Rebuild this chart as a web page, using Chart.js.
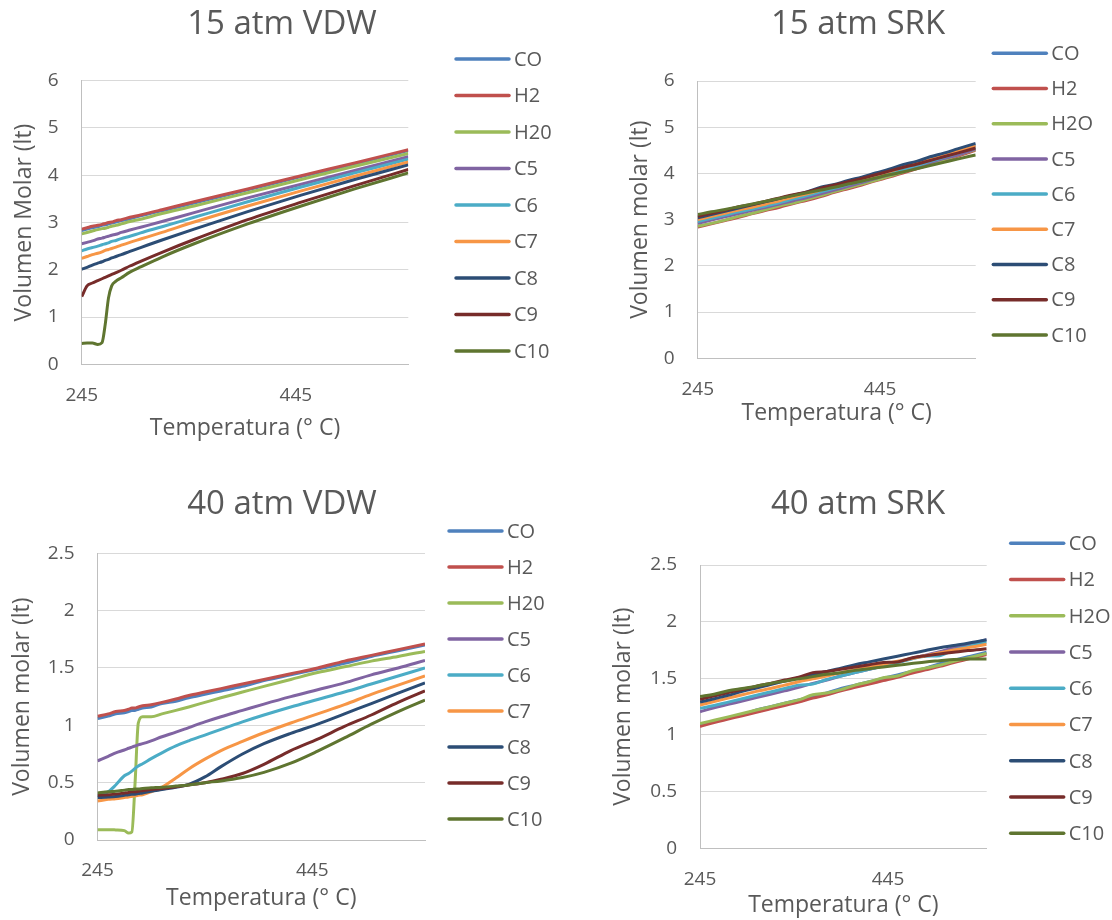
<!DOCTYPE html>
<html>
<head>
<meta charset="utf-8">
<title>Volumen molar vs temperatura</title>
<script src="https://cdn.jsdelivr.net/npm/chart.js@4.4.1/dist/chart.umd.min.js"></script>
<style>
  body { margin: 0; background: #fff; }
  #page { position: relative; width: 1112px; height: 920px; overflow: hidden; }
  canvas { position: absolute; }
</style>
</head>
<body>
<div id="page">
  <canvas id="vdw15" width="564" height="455" style="left:0;top:0"></canvas>
  <canvas id="srk15" width="508" height="455" style="left:604px;top:0"></canvas>
  <canvas id="vdw40" width="564" height="440" style="left:0;top:480px"></canvas>
  <canvas id="srk40" width="508" height="440" style="left:604px;top:480px"></canvas>
</div>
<script>
// ---- data ----
const NAMES_VDW = ['CO', 'H2', 'H20', 'C5', 'C6', 'C7', 'C8', 'C9', 'C10'];
const NAMES_SRK = ['CO', 'H2', 'H2O', 'C5', 'C6', 'C7', 'C8', 'C9', 'C10'];
const TEMP_TICKS = [245, 445];

// 15 atm, Van der Waals
const TEMP_VDW15 = [245, 250, 255, 260, 264, 267, 270, 273, 277, 282, 290, 300, 320, 350, 400, 450, 500, 550];
const VDW15 = [
  [2.83, 2.86, 2.89, 2.91, 2.94, 2.95, 2.97, 2.99, 3.01, 3.04, 3.08, 3.14, 3.25, 3.41, 3.69, 3.97, 4.24, 4.52],
  [2.86, 2.89, 2.92, 2.94, 2.96, 2.98, 3.00, 3.01, 3.04, 3.06, 3.11, 3.16, 3.27, 3.44, 3.71, 3.99, 4.26, 4.54],
  [2.76, 2.79, 2.82, 2.85, 2.87, 2.88, 2.90, 2.92, 2.94, 2.97, 3.02, 3.07, 3.19, 3.35, 3.63, 3.91, 4.19, 4.46],
  [2.55, 2.58, 2.61, 2.65, 2.67, 2.69, 2.71, 2.73, 2.75, 2.79, 2.84, 2.90, 3.02, 3.21, 3.52, 3.81, 4.10, 4.39],
  [2.40, 2.44, 2.47, 2.50, 2.53, 2.55, 2.57, 2.60, 2.62, 2.66, 2.71, 2.78, 2.91, 3.11, 3.44, 3.75, 4.05, 4.34],
  [2.24, 2.28, 2.32, 2.35, 2.38, 2.41, 2.43, 2.45, 2.48, 2.52, 2.58, 2.65, 2.79, 3.01, 3.35, 3.67, 3.98, 4.28],
  [2.01, 2.05, 2.10, 2.14, 2.17, 2.20, 2.22, 2.25, 2.28, 2.32, 2.39, 2.47, 2.63, 2.86, 3.23, 3.58, 3.91, 4.22],
  [1.43, 1.66, 1.72, 1.77, 1.81, 1.84, 1.87, 1.90, 1.94, 1.99, 2.08, 2.18, 2.37, 2.64, 3.06, 3.43, 3.78, 4.12],
  [0.44, 0.45, 0.45, 0.42, 0.46, 0.85, 1.40, 1.66, 1.76, 1.83, 1.95, 2.06, 2.27, 2.55, 2.97, 3.35, 3.71, 4.05]
];

// 40 atm, Van der Waals
const TEMP_VDW40 = [245, 255, 262, 270, 274, 277, 280, 283, 287, 295, 305, 318, 330, 345, 360, 380, 400, 425, 450, 475, 500, 525, 550];
const VDW40 = [
  [1.06, 1.08, 1.10, 1.11, 1.12, 1.13, 1.13, 1.14, 1.15, 1.16, 1.19, 1.21, 1.24, 1.27, 1.30, 1.34, 1.39, 1.44, 1.49, 1.54, 1.60, 1.65, 1.70],
  [1.08, 1.10, 1.12, 1.13, 1.14, 1.15, 1.15, 1.16, 1.17, 1.18, 1.20, 1.23, 1.26, 1.29, 1.32, 1.36, 1.40, 1.45, 1.50, 1.56, 1.61, 1.66, 1.71],
  [0.09, 0.09, 0.088, 0.082, 0.06, 0.07, 0.50, 1.02, 1.075, 1.075, 1.10, 1.13, 1.16, 1.20, 1.24, 1.29, 1.34, 1.40, 1.46, 1.51, 1.56, 1.60, 1.645],
  [0.69, 0.73, 0.76, 0.785, 0.80, 0.81, 0.82, 0.83, 0.84, 0.865, 0.90, 0.94, 0.98, 1.03, 1.075, 1.13, 1.185, 1.25, 1.31, 1.37, 1.44, 1.50, 1.565],
  [0.38, 0.42, 0.48, 0.56, 0.58, 0.60, 0.625, 0.645, 0.665, 0.71, 0.76, 0.82, 0.865, 0.915, 0.965, 1.03, 1.09, 1.16, 1.225, 1.29, 1.36, 1.43, 1.50],
  [0.34, 0.355, 0.36, 0.37, 0.375, 0.38, 0.385, 0.39, 0.395, 0.42, 0.46, 0.54, 0.62, 0.705, 0.78, 0.86, 0.935, 1.02, 1.10, 1.18, 1.27, 1.35, 1.43],
  [0.37, 0.375, 0.38, 0.39, 0.395, 0.40, 0.40, 0.405, 0.41, 0.425, 0.44, 0.46, 0.485, 0.55, 0.64, 0.75, 0.84, 0.93, 1.01, 1.10, 1.19, 1.28, 1.37],
  [0.39, 0.395, 0.40, 0.41, 0.415, 0.42, 0.42, 0.425, 0.43, 0.44, 0.45, 0.465, 0.48, 0.50, 0.53, 0.58, 0.66, 0.78, 0.88, 0.99, 1.09, 1.20, 1.30],
  [0.41, 0.42, 0.425, 0.435, 0.44, 0.44, 0.445, 0.445, 0.45, 0.455, 0.46, 0.47, 0.48, 0.50, 0.515, 0.545, 0.59, 0.67, 0.775, 0.89, 1.01, 1.12, 1.22]
];

// Soave-Redlich-Kwong, both pressures share one temperature grid
const TEMP_SRK = [245, 260, 275, 290, 305, 320, 335, 350, 365, 380, 395, 410, 425, 440, 455, 470, 485, 500, 515, 530, 550];
const SRK15 = [
  [2.99, 3.06, 3.13, 3.20, 3.27, 3.34, 3.41, 3.49, 3.56, 3.64, 3.72, 3.80, 3.88, 3.97, 4.05, 4.14, 4.22, 4.31, 4.40, 4.49, 4.62],
  [2.84, 2.91, 2.98, 3.05, 3.13, 3.20, 3.27, 3.35, 3.42, 3.50, 3.59, 3.67, 3.75, 3.84, 3.92, 4.01, 4.10, 4.19, 4.28, 4.37, 4.50],
  [2.86, 2.92, 2.99, 3.07, 3.14, 3.22, 3.30, 3.36, 3.44, 3.52, 3.61, 3.69, 3.77, 3.85, 3.94, 4.03, 4.12, 4.21, 4.30, 4.39, 4.52],
  [2.92, 2.99, 3.06, 3.13, 3.20, 3.27, 3.34, 3.41, 3.48, 3.56, 3.64, 3.72, 3.80, 3.89, 3.97, 4.06, 4.14, 4.23, 4.32, 4.40, 4.53],
  [2.96, 3.03, 3.10, 3.17, 3.23, 3.30, 3.37, 3.45, 3.52, 3.60, 3.68, 3.76, 3.83, 3.92, 4.00, 4.09, 4.17, 4.26, 4.35, 4.44, 4.56],
  [3.00, 3.07, 3.14, 3.21, 3.27, 3.34, 3.41, 3.49, 3.56, 3.64, 3.72, 3.80, 3.87, 3.96, 4.04, 4.13, 4.21, 4.30, 4.39, 4.48, 4.60],
  [3.04, 3.11, 3.18, 3.25, 3.32, 3.39, 3.46, 3.53, 3.60, 3.70, 3.76, 3.85, 3.92, 4.01, 4.09, 4.19, 4.26, 4.36, 4.44, 4.53, 4.65],
  [3.07, 3.14, 3.20, 3.28, 3.33, 3.40, 3.47, 3.54, 3.60, 3.68, 3.75, 3.82, 3.89, 3.97, 4.05, 4.13, 4.20, 4.28, 4.36, 4.44, 4.55],
  [3.11, 3.17, 3.22, 3.28, 3.34, 3.40, 3.46, 3.52, 3.58, 3.64, 3.70, 3.77, 3.83, 3.90, 3.97, 4.03, 4.10, 4.17, 4.24, 4.31, 4.40]
];
const SRK40 = [
  [1.09, 1.12, 1.15, 1.18, 1.22, 1.25, 1.28, 1.31, 1.34, 1.37, 1.41, 1.44, 1.47, 1.50, 1.53, 1.56, 1.59, 1.63, 1.66, 1.69, 1.73],
  [1.075, 1.11, 1.14, 1.17, 1.20, 1.23, 1.26, 1.29, 1.325, 1.355, 1.39, 1.42, 1.45, 1.48, 1.51, 1.545, 1.575, 1.605, 1.64, 1.67, 1.71],
  [1.10, 1.13, 1.16, 1.19, 1.22, 1.25, 1.28, 1.31, 1.355, 1.37, 1.40, 1.44, 1.47, 1.505, 1.52, 1.565, 1.59, 1.615, 1.65, 1.68, 1.72],
  [1.205, 1.24, 1.27, 1.30, 1.33, 1.36, 1.39, 1.42, 1.455, 1.485, 1.52, 1.55, 1.58, 1.61, 1.64, 1.675, 1.705, 1.735, 1.77, 1.80, 1.84],
  [1.235, 1.26, 1.29, 1.32, 1.35, 1.38, 1.41, 1.44, 1.45, 1.49, 1.52, 1.55, 1.58, 1.61, 1.64, 1.67, 1.695, 1.70, 1.75, 1.78, 1.82],
  [1.265, 1.295, 1.325, 1.355, 1.385, 1.41, 1.44, 1.47, 1.495, 1.52, 1.55, 1.575, 1.60, 1.625, 1.65, 1.675, 1.70, 1.725, 1.75, 1.77, 1.80],
  [1.29, 1.32, 1.35, 1.385, 1.415, 1.445, 1.475, 1.505, 1.535, 1.56, 1.59, 1.62, 1.645, 1.67, 1.695, 1.72, 1.745, 1.77, 1.79, 1.81, 1.84],
  [1.315, 1.345, 1.375, 1.40, 1.43, 1.455, 1.485, 1.51, 1.55, 1.56, 1.58, 1.60, 1.62, 1.64, 1.645, 1.68, 1.70, 1.715, 1.73, 1.745, 1.76],
  [1.34, 1.36, 1.39, 1.41, 1.43, 1.455, 1.475, 1.495, 1.515, 1.535, 1.55, 1.57, 1.585, 1.60, 1.615, 1.63, 1.645, 1.655, 1.665, 1.67, 1.67]
];

// ---- styling ----
const SERIES_COLORS = ['#4F81BD', '#C0504D', '#9BBB59', '#8064A2', '#4BACC6', '#F79646', '#2C4D75', '#772C2A', '#5F7530'];
const TEXT = '#595959';
const GRID = '#d9d9d9';
const AXIS = '#bfbfbf';
const FONT = "'Open Sans', 'Noto Sans', sans-serif";

Chart.defaults.font.family = FONT;
Chart.defaults.color = TEXT;

// chart title + line legend, placed by hand to the right of the plot
const panelDecor = {
  id: 'panelDecor',
  afterDraw(chart, args, o) {
    const ctx = chart.ctx;
    ctx.save();
    ctx.fillStyle = TEXT;
    ctx.textBaseline = 'middle';
    ctx.textAlign = 'center';
    ctx.font = '33px ' + FONT;
    ctx.fillText(o.title, o.titleX, o.titleY);

    ctx.textAlign = 'left';
    ctx.font = '20px ' + FONT;
    ctx.lineWidth = 3.5;
    ctx.lineCap = 'round';
    chart.data.datasets.forEach((ds, i) => {
      const y = o.legendY + i * o.legendStep;
      ctx.strokeStyle = ds.borderColor;
      ctx.beginPath();
      ctx.moveTo(o.legendX, y);
      ctx.lineTo(o.legendX + 53, y);
      ctx.stroke();
      ctx.fillText(ds.label, o.legendX + 58, y + 1);
    });
    ctx.restore();
  }
};

function buildPanel(p) {
  const datasets = p.values.map((vals, i) => ({
    label: p.names[i],
    data: p.temps.map((t, k) => ({ x: t, y: vals[k] })),
    borderColor: SERIES_COLORS[i],
    backgroundColor: SERIES_COLORS[i],
    borderWidth: 3,
    pointRadius: 0,
    fill: false,
    cubicInterpolationMode: 'monotone',
    order: p.values.length - i   // later series drawn on top
  }));

  return new Chart(document.getElementById(p.id), {
    type: 'line',
    data: { datasets },
    options: {
      responsive: false,
      animation: false,
      events: [],
      layout: { padding: { left: 0, top: p.plotTop, right: p.w - p.plotRight, bottom: 0 } },
      plugins: {
        legend: { display: false },
        tooltip: { enabled: false },
        panelDecor: {
          title: p.title, titleX: p.titleX, titleY: 25,
          legendX: p.legendX, legendY: p.legendY, legendStep: p.legendStep
        }
      },
      scales: {
        x: {
          type: 'linear',
          min: 245,
          max: 550,
          afterBuildTicks: ax => { ax.ticks = TEMP_TICKS.map(v => ({ value: v })); },
          afterFit: ax => { ax.height = p.h - p.plotBottom; },
          grid: { display: false, drawTicks: false },
          border: { display: true, color: AXIS, width: 1 },
          ticks: { padding: p.xTickPad, maxRotation: 0, font: { size: 19 } },
          title: {
            display: true, text: 'Temperatura (° C)', font: { size: 23 },
            padding: { top: 0, bottom: p.xTitlePad }
          }
        },
        y: {
          min: 0,
          max: p.yMax,
          afterFit: ax => { ax.width = p.plotLeft; },
          grid: { color: GRID, lineWidth: 1, drawTicks: false },
          border: { display: true, color: AXIS, width: 1 },
          ticks: { stepSize: p.yStep, padding: 23, font: { size: 19 }, callback: v => String(v) },
          title: {
            display: true, text: p.yTitle, font: { size: 23 },
            padding: { top: p.yTitlePad, bottom: 0 }
          }
        }
      }
    },
    plugins: [panelDecor]
  });
}

buildPanel({
  id: 'vdw15', title: '15 atm VDW', yTitle: 'Volumen Molar (lt)',
  names: NAMES_VDW, temps: TEMP_VDW15, values: VDW15, yMax: 6, yStep: 1,
  w: 564, h: 455, plotLeft: 81.7, plotRight: 408.3, plotTop: 80.7, plotBottom: 364.3,
  titleX: 282, yTitlePad: 11, xTickPad: 20, xTitlePad: 13,
  legendX: 456, legendY: 59, legendStep: 36.5
});

buildPanel({
  id: 'srk15', title: '15 atm SRK', yTitle: 'Volumen molar (lt)',
  names: NAMES_SRK, temps: TEMP_SRK, values: SRK15, yMax: 6, yStep: 1,
  w: 508, h: 455, plotLeft: 93.7, plotRight: 371.7, plotTop: 81, plotBottom: 358.3,
  titleX: 254, yTitlePad: 23, xTickPad: 20, xTitlePad: 28,
  legendX: 389.3, legendY: 53.3, legendStep: 35.2
});

buildPanel({
  id: 'vdw40', title: '40 atm VDW', yTitle: 'Volumen molar (lt)',
  names: NAMES_VDW, temps: TEMP_VDW40, values: VDW40, yMax: 2.5, yStep: 0.5,
  w: 564, h: 440, plotLeft: 97.5, plotRight: 425, plotTop: 73.3, plotBottom: 360,
  titleX: 282, yTitlePad: 9, xTickPad: 19, xTitlePad: 8,
  legendX: 449, legendY: 51, legendStep: 36
});

buildPanel({
  id: 'srk40', title: '40 atm SRK', yTitle: 'Volumen molar (lt)',
  names: NAMES_SRK, temps: TEMP_SRK, values: SRK40, yMax: 2.5, yStep: 0.5,
  w: 508, h: 440, plotLeft: 96, plotRight: 382.7, plotTop: 85, plotBottom: 368.3,
  titleX: 254, yTitlePad: 6, xTickPad: 20, xTitlePad: 1,
  legendX: 406.7, legendY: 63.3, legendStep: 36.25
});
</script>
</body>
</html>
